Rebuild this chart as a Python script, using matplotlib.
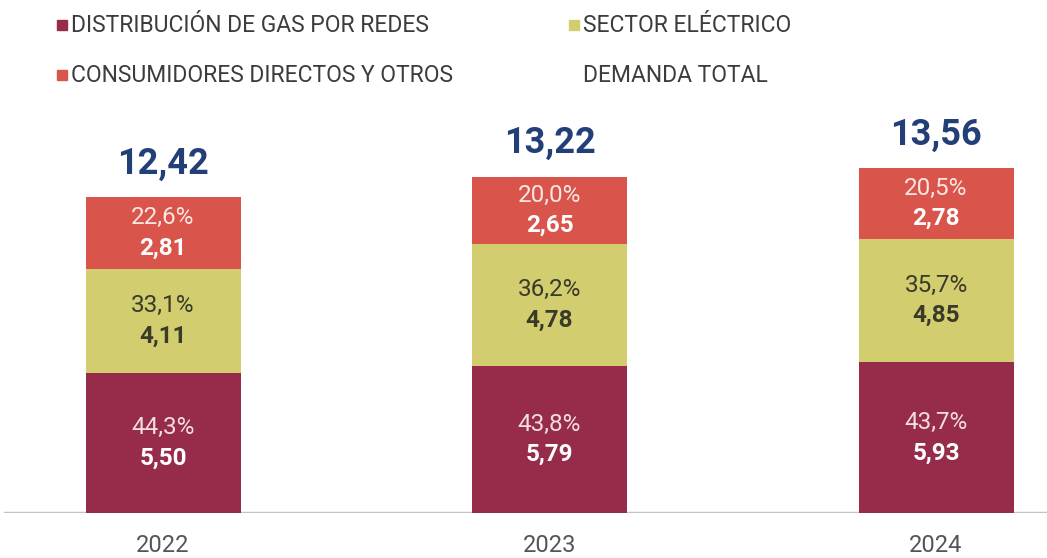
import matplotlib
matplotlib.use("Agg")
import matplotlib.pyplot as plt
from matplotlib.patches import Rectangle

years = ["2022", "2023", "2024"]
distribucion = [5.50, 5.79, 5.93]
electrico = [4.11, 4.78, 4.85]
consumidores = [2.81, 2.65, 2.78]
pct_distribucion = ["44,3%", "43,8%", "43,7%"]
pct_electrico = ["33,1%", "36,2%", "35,7%"]
pct_consumidores = ["22,6%", "20,0%", "20,5%"]
totales = ["12,42", "13,22", "13,56"]
legend_labels = ["DISTRIBUCIÓN DE GAS POR REDES", "SECTOR ELÉCTRICO",
                 "CONSUMIDORES DIRECTOS Y OTROS", "DEMANDA TOTAL"]

C_DIS = "#962c4a"
C_ELE = "#d2cd6e"
C_CON = "#d9544b"
C_TOT = "#233f78"

FONT = ["Liberation Sans Narrow", "Roboto", "DejaVu Sans"]
plt.rcParams["font.family"] = FONT

W, H = 1047, 558
fig = plt.figure(figsize=(W / 100, H / 100), dpi=100)
ax = fig.add_axes([0, 45 / H, 1, 1 - 45 / H])
px_per_unit = 25.44
ax.set_ylim(0, 513 / px_per_unit)
spacing = 386.5
ax.set_xlim(-163 / spacing, (W - 163) / spacing)
ax.axis("off")

x = list(range(len(years)))
bw = 155 / spacing
ax.bar(x, distribucion, width=bw, color=C_DIS)
bottom2 = distribucion
ax.bar(x, electrico, width=bw, bottom=bottom2, color=C_ELE)
bottom3 = [a + b for a, b in zip(distribucion, electrico)]
ax.bar(x, consumidores, width=bw, bottom=bottom3, color=C_CON)

ax.axhline(0, xmin=5 / W, xmax=1, color="#c4c4c4", lw=2.5, zorder=0)

def seg_labels(xi, bottom, val, pct, txtcol, pctcol):
    yc = bottom + val / 2
    ax.annotate(pct, (xi, yc), xytext=(0, 11), textcoords="offset points",
                ha="center", va="center", fontsize=17.5, color=pctcol)
    ax.annotate(f"{val:.2f}".replace(".", ","), (xi, yc), xytext=(0, -11),
                textcoords="offset points", ha="center", va="center",
                fontsize=17.5, fontweight="bold", color=txtcol)

for i in x:
    seg_labels(i, 0, distribucion[i], pct_distribucion[i], "white", "#f3dde3")
    seg_labels(i, bottom2[i], electrico[i], pct_electrico[i], "#3a3a2a", "#3a3a2a")
    seg_labels(i, bottom3[i], consumidores[i], pct_consumidores[i], "white", "#fbe6e2")
    top = bottom3[i] + consumidores[i]
    ax.annotate(totales[i], (i, top), xytext=(0, 24), textcoords="offset points",
                ha="center", va="center", fontsize=26, fontweight="bold", color=C_TOT)
    ax.text(i, -33 / px_per_unit, years[i], ha="center", va="center",
            fontsize=17, color="#555555", clip_on=False)

# legend
leg = [(57, 25, C_DIS, legend_labels[0]), (569, 25, C_ELE, legend_labels[1]),
       (57, 75, C_CON, legend_labels[2]), (569, 75, None, legend_labels[3])]
for lx, ly, col, lab in leg:
    if col is not None:
        fig.patches.append(Rectangle((lx / W, 1 - (ly + 5) / H), 10 / W, 10 / H,
                                     transform=fig.transFigure, color=col))
    fig.text((lx + 14) / W, 1 - ly / H, lab, ha="left", va="center",
             fontsize=16.5, color="#3c3c3c")

fig.savefig("out.png", dpi=100, facecolor="white")
